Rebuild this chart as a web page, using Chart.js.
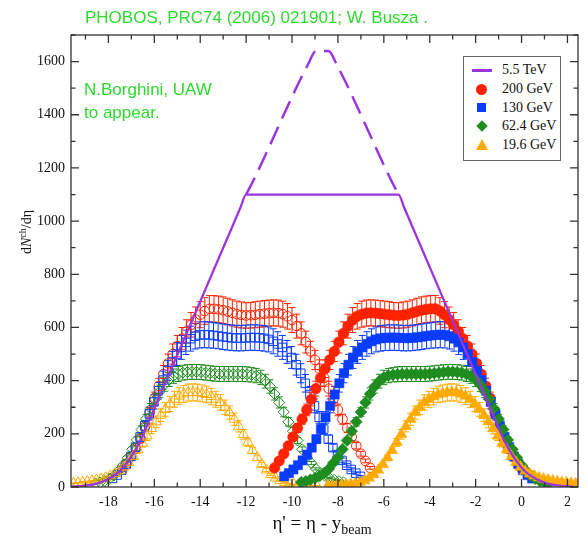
<!DOCTYPE html>
<html>
<head>
<meta charset="utf-8">
<script src="https://cdn.jsdelivr.net/npm/chart.js@4.4.1/dist/chart.umd.min.js"></script>
<style>
html,body{margin:0;padding:0;background:#fff;}
#wrap{position:relative;width:588px;height:542px;overflow:hidden;background:#fff;}
#c{position:absolute;left:0;top:0;}
.g{position:absolute;color:#2cdc2c;font-family:'Liberation Sans',Arial,sans-serif;font-size:17px;line-height:17px;white-space:nowrap;}
.s{font-family:'Liberation Serif','Times New Roman',serif;color:#111;white-space:nowrap;position:absolute;}
#legend{position:absolute;left:463px;top:56px;width:98px;height:105px;border:1px solid #666;background:#fff;box-sizing:border-box;}
.li{position:absolute;left:0;width:96px;height:0;}
.li .t{position:absolute;left:38px;top:-9px;font-size:14px;line-height:18px;}
.sym{position:absolute;}
</style>
</head>
<body>
<div id="wrap">
<canvas id="c" width="588" height="542"></canvas>
<div class="g" style="left:85px;top:9px;">PHOBOS, PRC74 (2006) 021901; W. Busza .</div>
<div class="g" style="left:84px;top:81px;">N.Borghini, UAW</div>
<div class="g" style="left:84px;top:104px;">to appear.</div>
<div id="legend">
  <div class="li" style="top:13px"><span class="sym" style="left:8px;top:-1.5px;width:20px;height:3px;background:#9b35e0"></span><span class="s t">5.5 TeV</span></div>
  <div class="li" style="top:32px"><span class="sym" style="left:12px;top:-5.5px;width:11px;height:11px;border-radius:50%;background:#ff2200"></span><span class="s t">200 GeV</span></div>
  <div class="li" style="top:50.5px"><span class="sym" style="left:13px;top:-4.5px;width:9px;height:9px;background:#0a3cff"></span><span class="s t">130 GeV</span></div>
  <div class="li" style="top:69px"><span class="sym" style="left:13.5px;top:-4px;width:8px;height:8px;background:#1f8c1f;transform:rotate(45deg)"></span><span class="s t">62.4 GeV</span></div>
  <div class="li" style="top:88px"><span class="sym" style="left:11.5px;top:-6px;width:0;height:0;border-left:6px solid transparent;border-right:6px solid transparent;border-bottom:11px solid #ffaa00"></span><span class="s t">19.6 GeV</span></div>
</div>
<div class="s" id="ytitle" style="left:25px;top:232px;font-size:14px;line-height:14px;transform:translate(-50%,-50%) rotate(-90deg);">d<i>N</i><sup style="font-size:10px;vertical-align:5px">ch</sup>/dη</div>
<div class="s" id="xtitle" style="left:322px;top:513px;font-size:19px;line-height:19px;transform:translateX(-50%);">η' = η - y<sub style="font-size:14px;vertical-align:-5px">beam</sub></div>
</div>
<script>
// ---------------- data ----------------
const eta = [-5.4,-5.2,-5.0,-4.8,-4.6,-4.4,-4.2,-4.0,-3.8,-3.6,-3.4,-3.2,-3.0,-2.8,-2.6,-2.4,-2.2,-2.0,-1.8,-1.6,-1.4,-1.2,-1.0,-0.8,-0.6,-0.4,-0.2,0,0.2,0.4,0.6,0.8,1.0,1.2,1.4,1.6,1.8,2.0,2.2,2.4,2.6,2.8,3.0,3.2,3.4,3.6,3.8,4.0,4.2,4.4,4.6,4.8,5.0,5.2,5.4];

const energies = ['200 GeV','130 GeV','62.4 GeV','19.6 GeV'];
const yBeam200 = 5.36, yBeam130 = 4.94, yBeam62 = 4.20, yBeam19 = 3.04;
const yBeamLHC = 8.68;

const dn200 = [72,98,125,155,188,222,255,290,330,370,410,445,478,510,545,578,605,628,642,650,654,655,654,652,650,648,646,645,647,650,655,660,665,668,670,670,662,648,630,610,585,558,530,500,465,425,380,332,280,228,182,145,115,88,65];
const err200 = [5,7,9,12,14,17,19,22,25,28,31,33,36,38,41,43,45,47,48,49,49,49,49,49,49,49,48,48,49,49,49,50,50,50,50,50,50,49,47,46,44,42,40,38,35,32,29,25,21,17,14,11,9,7,5];

const dn130 = [40,52,66,82,100,122,148,180,218,262,305,348,390,428,460,487,508,525,538,548,555,559,561,562,562,561,560,560,561,563,565,568,570,572,573,572,567,558,544,525,500,470,438,402,362,320,275,230,188,150,115,86,63,45,32];
const err130 = [3,4,6,7,9,10,13,15,19,22,26,30,33,36,39,41,43,45,46,47,47,48,48,48,48,48,48,48,48,48,48,48,48,49,49,49,48,47,46,45,43,40,37,34,31,27,23,20,16,13,10,7,5,4,3];

const dn62 = [18,22,27,33,41,52,68,90,112,142,175,210,245,282,318,350,378,398,412,419,422,424,425,425,425,425,425,425,426,428,430,432,433,433,432,430,425,417,404,385,360,330,295,256,216,177,142,110,82,60,43,31,23,17,13];
const err62 = [1,1,2,2,3,3,4,6,7,9,11,14,16,18,21,23,25,26,27,27,27,28,28,28,28,28,28,28,28,28,28,28,28,28,28,28,28,27,26,25,23,21,19,17,14,12,9,7,5,4,3,2,1,1,1];

const dn19 = [5,5,6,7,8,10,12,17,24,34,47,64,85,110,138,168,198,228,255,280,300,318,330,340,348,352,355,356,355,350,342,330,312,292,270,245,220,192,165,140,115,93,75,60,50,42,35,30,26,23,20,18,16,14,12];
const err19 = [1,1,1,1,1,1,1,2,2,3,4,6,8,10,12,15,18,21,23,25,27,29,30,31,31,32,32,32,32,32,31,30,28,26,24,22,20,17,15,13,10,8,7,5,5,4,3,3,2,2,2,2,1,1,1];

// 5.5 TeV extrapolation (solid) and dashed variant
const lhcSolidX = [-19.63,-19.0,-18.5,-18.0,-17.5,-17.0,-16.6,-16.3,-12.25,-12.0,-5.36,-5.11,-1.06,-0.76,-0.36,0.14,0.64,1.14,1.64,2.27];
const lhcSolidY = [1,5,13,30,60,115,175,235,1050,1100,1100,1050,235,175,115,60,30,13,5,1];
const lhcDashX = [-12.0,-11.7,-9.3,-8.95,-8.41,-8.06,-5.66,-5.36];
const lhcDashY = [1100,1150,1590,1640,1640,1590,1150,1100];

const xTicks = [-18,-16,-14,-12,-10,-8,-6,-4,-2,0,2];
const xMinor = [-19,-17,-15,-13,-11,-9,-7,-5,-3,-1,1];
const yTicks = [0,200,400,600,800,1000,1200,1400,1600];
const yMinor = [100,300,500,700,900,1100,1300,1500,1700];

// ---------------- build ----------------
const colRed = '#ff2200', colBlue = '#0a3cff', colGreen = '#1f8c1f', colOrange = '#ffaa00', colPurple = '#9b35e0';

function filled(vals, yb){ return eta.map((e,i)=>({x: e - yb, y: vals[i]})); }
function mirrored(vals, yb){ return eta.map((e,i)=>({x: -2*yBeamLHC - (e - yb), y: vals[i]})); }

function series(label, data, errs, color, style, radius, open, order){
  return {
    label, data, errs, order,
    showLine:false,
    pointStyle: style,
    pointRadius: radius,
    pointHoverRadius: radius,
    backgroundColor: open ? 'rgba(0,0,0,0)' : color,
    borderColor: color,
    pointBorderWidth: open ? 1 : 0.5,
    borderWidth: open ? 1 : 0.5,
    errColor: color
  };
}

const datasets = [
  { label:'5.5 TeV', data: lhcSolidX.map((x,i)=>({x, y: lhcSolidY[i]})), showLine:true, borderColor: colPurple, borderWidth:2.3, pointRadius:0, cubicInterpolationMode:'monotone', order:0, fill:false },
  { label:'5.5 TeV dashed', data: lhcDashX.map((x,i)=>({x, y: lhcDashY[i]})), showLine:true, borderColor: colPurple, borderWidth:2.5, borderDash:[19,9], pointRadius:0, cubicInterpolationMode:'monotone', order:0, fill:false },
  series(energies[3], filled(dn19, yBeam19), err19, colOrange, 'triangle', 6.5, false, 1),
  series(energies[2], filled(dn62, yBeam62), err62, colGreen, 'rectRot', 6, false, 2),
  series(energies[1], filled(dn130, yBeam130), err130, colBlue, 'rect', 6.5, false, 3),
  series(energies[0], filled(dn200, yBeam200), err200, colRed, 'circle', 5.3, false, 4),
  series(energies[3]+' refl', mirrored(dn19, yBeam19), err19, colOrange, 'triangle', 6, true, 5),
  series(energies[2]+' refl', mirrored(dn62, yBeam62), err62, colGreen, 'rectRot', 5.5, true, 6),
  series(energies[1]+' refl', mirrored(dn130, yBeam130), err130, colBlue, 'rect', 6, true, 7),
  series(energies[0]+' refl', mirrored(dn200, yBeam200), err200, colRed, 'circle', 4.8, true, 8)
];

const errorBars = {
  id:'errorBars',
  beforeDatasetsDraw(chart){
    const {ctx, chartArea:a, scales:{x, y}} = chart;
    ctx.save();
    ctx.beginPath(); ctx.rect(a.left, a.top, a.right-a.left, a.bottom-a.top); ctx.clip();
    const list = chart.data.datasets.filter(d=>d.errs).slice().sort((p,q)=>q.order-p.order);
    list.forEach(ds=>{
      ctx.strokeStyle = ds.errColor; ctx.lineWidth = 1;
      ctx.beginPath();
      ds.data.forEach((p,i)=>{
        const e = ds.errs[i]; if(!e) return;
        const px = x.getPixelForValue(p.x);
        const y1 = y.getPixelForValue(p.y + e), y2 = y.getPixelForValue(p.y - e);
        ctx.moveTo(px, y1); ctx.lineTo(px, y2);
        ctx.moveTo(px-3.5, y1); ctx.lineTo(px+3.5, y1);
        ctx.moveTo(px-3.5, y2); ctx.lineTo(px+3.5, y2);
      });
      ctx.stroke();
    });
    ctx.restore();
  }
};

const frame = {
  id:'frame',
  afterDatasetsDraw(chart){
    const {ctx, chartArea:a, scales:{x, y}} = chart;
    ctx.save();
    ctx.strokeStyle = '#333'; ctx.lineWidth = 1.3;
    ctx.strokeRect(a.left, a.top, a.right-a.left, a.bottom-a.top);
    ctx.beginPath();
    const tx = (v,len)=>{ const p = x.getPixelForValue(v); ctx.moveTo(p,a.bottom); ctx.lineTo(p,a.bottom-len); ctx.moveTo(p,a.top); ctx.lineTo(p,a.top+len); };
    const ty = (v,len)=>{ const p = y.getPixelForValue(v); ctx.moveTo(a.left,p); ctx.lineTo(a.left+len,p); ctx.moveTo(a.right,p); ctx.lineTo(a.right-len,p); };
    xTicks.forEach(v=>tx(v,8)); xMinor.forEach(v=>tx(v,4.5));
    yTicks.forEach(v=>ty(v,8)); yMinor.forEach(v=>ty(v,4.5));
    ctx.stroke();
    ctx.restore();
  }
};

new Chart(document.getElementById('c'), {
  type:'scatter',
  data:{ datasets },
  options:{
    responsive:false, animation:false, devicePixelRatio:1,
    layout:{ padding:{ left:0, right:10, top:35, bottom:0 } },
    plugins:{ legend:{display:false}, tooltip:{enabled:false} },
    elements:{ line:{ tension:0 } },
    scales:{
      x:{
        type:'linear', min:-19.63, max:2.46,
        afterFit(s){ s.height = 55; },
        afterBuildTicks(s){ s.ticks = xTicks.map(v=>({value:v})); },
        grid:{ display:false, drawTicks:false },
        border:{ display:false },
        ticks:{ padding:7, autoSkip:false, maxRotation:0, color:'#111', font:{ family:'Liberation Serif', size:14 }, callback:v=>String(v) }
      },
      y:{
        type:'linear', min:0, max:1700,
        afterFit(s){ s.width = 71; },
        afterBuildTicks(s){ s.ticks = yTicks.map(v=>({value:v})); },
        grid:{ display:false, drawTicks:false },
        border:{ display:false },
        ticks:{ padding:6, autoSkip:false, color:'#111', font:{ family:'Liberation Serif', size:14 }, callback:v=>String(v) }
      }
    }
  },
  plugins:[errorBars, frame]
});
</script>
</body>
</html>
